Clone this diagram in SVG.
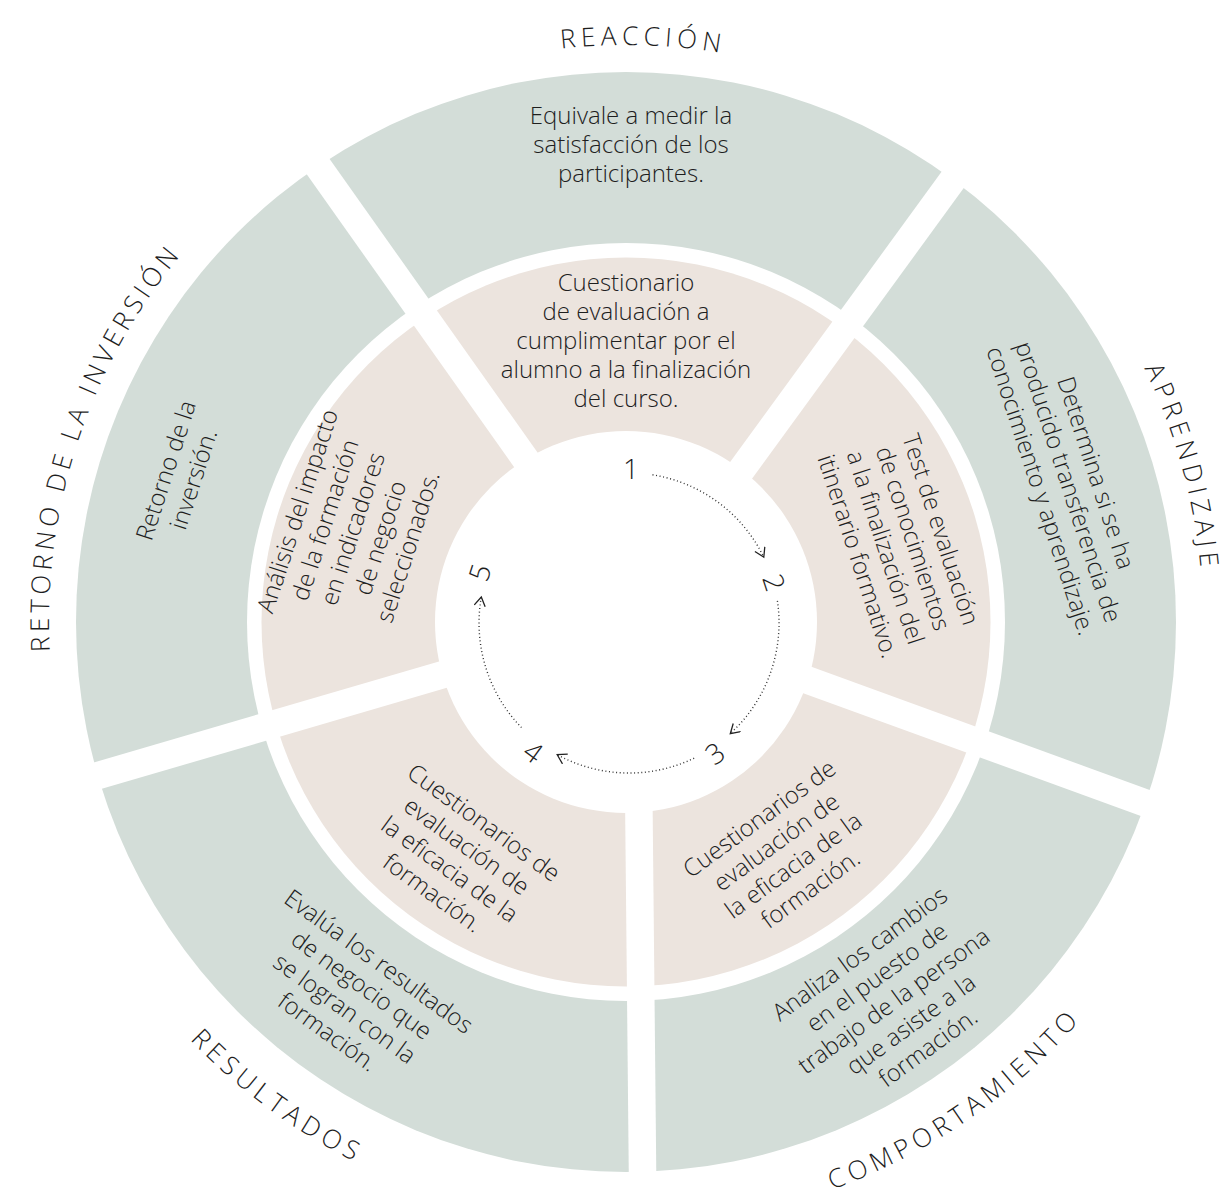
<svg xmlns="http://www.w3.org/2000/svg" xmlns:xlink="http://www.w3.org/1999/xlink" width="1230" height="1192" viewBox="0 0 1230 1192">
<style>
.t{font-family:"Open Sans",Lato,"Liberation Sans",sans-serif;font-weight:300;fill:#1e1e1e;}
.body{font-size:24px;text-anchor:middle;}
.title{font-size:26px;letter-spacing:5.2px;}
.num{font-size:28px;text-anchor:middle;}
.gap{stroke:#fff;stroke-width:27.5;fill:none;}
.dots{fill:none;stroke:#333;stroke-width:1.4;stroke-dasharray:1 2.6;}
</style>
<defs>
<marker id="chev" markerUnits="userSpaceOnUse" markerWidth="16" markerHeight="16" refX="10" refY="6" orient="auto">
<path d="M1,0.5 L10,6 L1,11.5" fill="none" stroke="#222" stroke-width="1.3"/>
</marker>
<path id="arcCW" d="M-442,-370.9 A577,577 0 0 1 442,-370.9"/>
<path id="arcCCW" d="M-462.7,388.2 A604,604 0 0 0 462.7,388.2"/>
</defs>
<rect width="1230" height="1192" fill="#fff"/>
<g id="rings">
<circle cx="626" cy="622" r="550" fill="#d3ddd8"/>
<circle cx="626" cy="622" r="379" fill="#fff"/>
<circle cx="626" cy="622" r="364.5" fill="#ece4de"/>
<circle cx="626" cy="622" r="191" fill="#fff"/>
</g>
<g id="gaps">
<line class="gap" x1="631.3" y1="621" x2="1043.5" y2="55.2"/>
<line class="gap" x1="640" y1="621" x2="235.4" y2="49.8"/>
<line class="gap" x1="626" y1="614" x2="1283.8" y2="853.4"/>
<line class="gap" x1="626" y1="621.1" x2="-45.9" y2="817.7"/>
<line class="gap" x1="637" y1="621" x2="643.3" y2="1250"/>
</g>
<g id="titles" class="t title">
<g id="title-reaccion" transform="translate(626,622) rotate(1.7)"><text><textPath xlink:href="#arcCW" startOffset="50%" text-anchor="middle">REACCIÓN</textPath></text></g>
<g id="title-aprendizaje" transform="translate(626,622) rotate(74.5)"><text><textPath xlink:href="#arcCW" startOffset="50%" text-anchor="middle">APRENDIZAJE</textPath></text></g>
<g id="title-retorno" transform="translate(626,622) rotate(-71.6)"><text style="letter-spacing:4.4px"><textPath xlink:href="#arcCW" startOffset="50%" text-anchor="middle">RETORNO DE LA INVERSIÓN</textPath></text></g>
<g id="title-resultados" transform="translate(626,622) rotate(36.3)"><text><textPath xlink:href="#arcCCW" startOffset="50%" text-anchor="middle">RESULTADOS</textPath></text></g>
<g id="title-comportamiento" transform="translate(626,622) rotate(-34.5)"><text><textPath xlink:href="#arcCCW" startOffset="50%" text-anchor="middle">COMPORTAMIENTO</textPath></text></g>
</g>
<g id="outer-texts" class="t body">
<g id="reaccion-outer"><text transform="translate(631,145)"><tspan x="0" y="-21">Equivale a medir la</tspan><tspan x="0" y="8">satisfacción de los</tspan><tspan x="0" y="37">participantes.</tspan></text></g>
<g id="aprendizaje-outer"><text transform="translate(1068,482) rotate(72)"><tspan x="0" y="-21">Determina si se ha</tspan><tspan x="0" y="8">producido transferencia de</tspan><tspan x="0" y="37">conocimiento y aprendizaje.</tspan></text></g>
<g id="comportamiento-outer"><text transform="translate(894,1001) rotate(-36)"><tspan x="0" y="-50">Analiza los cambios</tspan><tspan x="0" y="-21">en el puesto de</tspan><tspan x="0" y="8">trabajo de la persona</tspan><tspan x="0" y="37">que asiste a la</tspan><tspan x="0" y="66">formación.</tspan></text></g>
<g id="resultados-outer"><text transform="translate(353,997) rotate(36)"><tspan x="0" y="-35.5">Evalúa los resultados</tspan><tspan x="0" y="-6.5">de negocio que</tspan><tspan x="0" y="22.5">se logran con la</tspan><tspan x="0" y="51.5">formación.</tspan></text></g>
<g id="retorno-outer"><text transform="translate(180,475) rotate(-72)"><tspan x="0" y="-6.5">Retorno de la</tspan><tspan x="0" y="22.5">inversión.</tspan></text></g>
</g>
<g id="inner-texts" class="t body">
<g id="reaccion-inner"><text transform="translate(626,341)"><tspan x="0" y="-50">Cuestionario</tspan><tspan x="0" y="-21">de evaluación a</tspan><tspan x="0" y="8">cumplimentar por el</tspan><tspan x="0" y="37">alumno a la finalización</tspan><tspan x="0" y="66">del curso.</tspan></text></g>
<g id="aprendizaje-inner"><text transform="translate(899,543) rotate(72)"><tspan x="0" y="-35.5">Test de evaluación</tspan><tspan x="0" y="-6.5">de conocimientos</tspan><tspan x="0" y="22.5">a la finalización del</tspan><tspan x="0" y="51.5">itinerario formativo.</tspan></text></g>
<g id="comportamiento-inner"><text transform="translate(785,854) rotate(-36)"><tspan x="0" y="-35.5">Cuestionarios de</tspan><tspan x="0" y="-6.5">evaluación de</tspan><tspan x="0" y="22.5">la eficacia de la</tspan><tspan x="0" y="51.5">formación.</tspan></text></g>
<g id="resultados-inner"><text transform="translate(458,858) rotate(36)"><tspan x="0" y="-35.5">Cuestionarios de</tspan><tspan x="0" y="-6.5">evaluación de</tspan><tspan x="0" y="22.5">la eficacia de la</tspan><tspan x="0" y="51.5">formación.</tspan></text></g>
<g id="retorno-inner"><text transform="translate(353,529) rotate(-72)"><tspan x="0" y="-50">Análisis del impacto</tspan><tspan x="0" y="-21">de la formación</tspan><tspan x="0" y="8">en indicadores</tspan><tspan x="0" y="37">de negocio</tspan><tspan x="0" y="66">seleccionados.</tspan></text></g>
</g>
<g id="connectors">
<path class="dots" d="M652.5,474.8 A150,150 0 0 1 763.8,557.2" marker-end="url(#chev)"/>
<path class="dots" d="M777.4,600.8 A150,150 0 0 1 730.3,733.6" marker-end="url(#chev)"/>
<path class="dots" d="M694.1,758.2 A150,150 0 0 1 557.2,754.7" marker-end="url(#chev)"/>
<path class="dots" d="M521.5,727.6 A150,150 0 0 1 481.3,597" marker-end="url(#chev)"/>
</g>
<g id="step-numbers" class="t num">
<g id="n1"><text transform="translate(631,468.5)" y="10">1</text></g>
<g id="n2"><text transform="translate(774,582.5) rotate(72)" y="10">2</text></g>
<g id="n3"><text transform="translate(715,753.5) rotate(-36)" y="10">3</text></g>
<g id="n4"><text transform="translate(533,752) rotate(36)" y="10">4</text></g>
<g id="n5"><text transform="translate(480,572.5) rotate(-72)" y="10">5</text></g>
</g>
</svg>
